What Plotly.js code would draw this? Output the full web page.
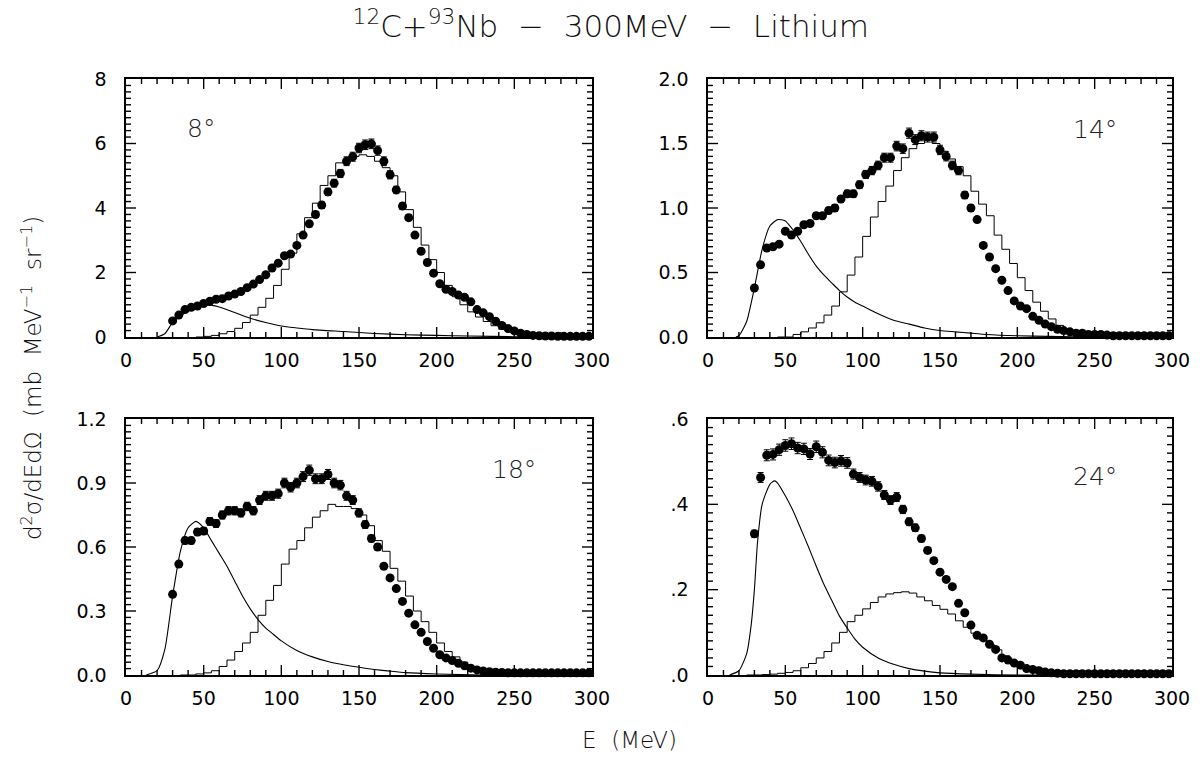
<!DOCTYPE html>
<html>
<head>
<meta charset="utf-8">
<script src="https://cdn.plot.ly/plotly-3.0.1.min.js"></script>
<style>html,body{margin:0;padding:0;background:#fff;}#chart{width:1200px;height:758px;}</style>
</head>
<body>
<div id="chart"></div>
<script>
// ---- data ----
const eData = [30,34,38,42,46,50,54,58,62,66,70,74,78,82,86,90,94,98,102,106,110,114,118,122,126,130,134,138,142,146,150,154,158,162,166,170,174,178,182,186,190,194,198,202,206,210,214,218,222,226,230,234,238,242,246,250,254,258,262,266,270,274,278,282,286,290,294,298];

const data8 = [0.50,0.68,0.85,0.92,0.96,1.04,1.11,1.17,1.19,1.27,1.33,1.41,1.53,1.64,1.78,1.93,2.14,2.29,2.52,2.57,2.84,3.16,3.51,3.80,4.09,4.50,4.77,5.07,5.45,5.59,5.86,5.96,5.99,5.78,5.45,5.03,4.56,4.06,3.70,3.16,2.66,2.31,1.98,1.65,1.48,1.41,1.30,1.23,1.09,0.85,0.75,0.63,0.49,0.36,0.26,0.19,0.12,0.08,0.05,0.04,0.03,0.03,0.02,0.02,0.02,0.02,0.02,0.02];
const data14 = [0.38,0.56,0.69,0.70,0.72,0.82,0.79,0.82,0.87,0.88,0.94,0.94,0.98,1.00,1.07,1.11,1.11,1.18,1.26,1.29,1.33,1.39,1.39,1.48,1.46,1.58,1.53,1.56,1.55,1.55,1.45,1.40,1.33,1.29,1.10,1.00,0.91,0.71,0.62,0.53,0.44,0.36,0.28,0.24,0.22,0.16,0.13,0.10,0.08,0.06,0.05,0.04,0.03,0.03,0.02,0.02,0.02,0.015,0.01,0.01,0.01,0.01,0.01,0.01,0.01,0.01,0.01,0.01];
const data18 = [0.378,0.52,0.63,0.63,0.67,0.675,0.72,0.71,0.75,0.77,0.77,0.76,0.79,0.77,0.82,0.84,0.84,0.85,0.90,0.88,0.90,0.93,0.96,0.92,0.92,0.94,0.90,0.89,0.84,0.82,0.76,0.705,0.64,0.60,0.51,0.455,0.405,0.345,0.29,0.235,0.20,0.157,0.125,0.095,0.08,0.068,0.055,0.043,0.032,0.024,0.019,0.015,0.013,0.012,0.01,0.01,0.01,0.01,0.01,0.01,0.01,0.01,0.01,0.01,0.01,0.01,0.01,0.01];
const data24 = [0.331,0.463,0.515,0.517,0.528,0.538,0.542,0.532,0.530,0.518,0.535,0.522,0.503,0.498,0.502,0.497,0.471,0.463,0.457,0.454,0.442,0.422,0.410,0.417,0.388,0.359,0.345,0.320,0.292,0.268,0.241,0.224,0.207,0.168,0.146,0.117,0.093,0.087,0.072,0.060,0.040,0.035,0.028,0.023,0.015,0.013,0.010,0.007,0.005,0.004,0.003,0.003,0.003,0.003,0.003,0.003,0.003,0.003,0.003,0.003,0.003,0.003,0.003,0.003,0.003,0.003,0.003,0.003];

// smooth low-energy component
const cE8 = [20,25,30,35,40,45,50,55,60,70,80,90,100,110,120,140,160,180,200,220,250,300];
const c8  = [0,0.10,0.45,0.65,0.80,0.93,0.99,0.98,0.93,0.76,0.58,0.45,0.34,0.28,0.23,0.17,0.11,0.07,0.05,0.03,0.01,0];
const cE14 = [18,20,25,30,35,40,45,50,55,60,65,70,75,80,85,90,95,100,110,120,130,140,150,160,170,180,200,220,250,300];
const c14  = [0,0.01,0.12,0.38,0.68,0.86,0.91,0.90,0.83,0.74,0.64,0.55,0.48,0.42,0.36,0.31,0.27,0.24,0.18,0.13,0.10,0.07,0.05,0.04,0.03,0.02,0.01,0.005,0,0];
const cE18 = [13,20,25,30,35,40,45,50,55,60,65,70,75,80,85,90,95,100,110,120,130,140,150,160,170,180,200,230,300];
const c18  = [0,0.02,0.12,0.37,0.58,0.69,0.72,0.69,0.63,0.57,0.51,0.44,0.37,0.31,0.26,0.22,0.19,0.16,0.115,0.085,0.063,0.048,0.036,0.026,0.018,0.011,0.005,0,0];
const cE24 = [14,20,25,28,30,32,35,40,43,45,50,55,60,65,70,75,80,85,90,95,100,110,120,130,140,150,170,200,300];
const c24  = [0,0.01,0.05,0.12,0.20,0.31,0.40,0.447,0.455,0.45,0.42,0.385,0.343,0.30,0.255,0.212,0.175,0.138,0.11,0.084,0.065,0.04,0.025,0.015,0.009,0.005,0.002,0,0];

// histogram high-energy component (5 MeV bins)
const hE8 = [45,50,55,60,65,70,75,80,85,90,95,100,105,110,115,120,125,130,135,140,145,150,155,160,165,170,175,180,185,190,195,200,205,210,215,220,225,230,235,240,245,250,255,260,265,270,275,280,285,290,295,300];
const h8  = [0,0.02,0.05,0.10,0.17,0.27,0.45,0.68,0.92,1.20,1.60,2.10,2.60,3.20,3.70,4.15,4.70,5.00,5.40,5.50,5.60,5.65,5.60,5.45,5.25,5.00,4.50,3.95,3.40,2.85,2.40,2.00,1.60,1.25,1.00,0.78,0.62,0.48,0.35,0.24,0.16,0.10,0.06,0.04,0.02,0.01,0,0,0,0,0,0];
const hE14 = [45,50,55,60,65,70,75,80,85,90,95,100,105,110,115,120,125,130,135,140,145,150,155,160,165,170,175,180,185,190,195,200,205,210,215,220,225,230,235,240,245,250,255,260,265,270,275,280,285,290,295,300];
const h14  = [0,0,0.02,0.04,0.07,0.11,0.17,0.24,0.35,0.48,0.62,0.78,0.93,1.05,1.17,1.29,1.39,1.46,1.50,1.53,1.50,1.44,1.38,1.32,1.25,1.13,1.03,0.94,0.79,0.68,0.57,0.46,0.36,0.27,0.20,0.14,0.09,0.06,0.04,0.02,0.01,0.01,0,0,0,0,0,0,0,0,0,0];
const hE18 = [35,40,45,50,55,60,65,70,75,80,85,90,95,100,105,110,115,120,125,130,135,140,145,150,155,160,165,170,175,180,185,190,195,200,205,210,215,220,225,230,235,240,245,250,255,260,265,270,275,280,285,290,295,300];
const h18  = [0,0,0.005,0.01,0.02,0.04,0.07,0.11,0.15,0.20,0.28,0.35,0.42,0.52,0.59,0.63,0.69,0.74,0.77,0.80,0.79,0.79,0.78,0.75,0.70,0.63,0.58,0.50,0.44,0.37,0.30,0.25,0.20,0.15,0.11,0.085,0.06,0.04,0.025,0.015,0.008,0.004,0.002,0,0,0,0,0,0,0,0,0,0,0];
const hE24 = [25,30,35,40,45,50,55,60,65,70,75,80,85,90,95,100,105,110,115,120,125,130,135,140,145,150,155,160,165,170,175,180,185,190,195,200,205,210,215,220,225,230,235,240,245,250,255,260,265,270,275,280,285,290,295,300];
const h24  = [0,0,0.001,0.002,0.004,0.006,0.010,0.017,0.027,0.040,0.055,0.075,0.100,0.125,0.140,0.155,0.170,0.183,0.190,0.193,0.195,0.192,0.183,0.174,0.163,0.154,0.143,0.127,0.112,0.098,0.085,0.072,0.059,0.045,0.031,0.022,0.015,0.009,0.005,0.003,0.002,0.001,0,0,0,0,0,0,0,0,0,0,0,0,0,0];

const angleLabels = ['8°','14°','18°','24°'];
const yTickVals = [[0,2,4,6,8],[0,0.5,1,1.5,2],[0,0.3,0.6,0.9,1.2],[0,0.2,0.4,0.6]];
const yTickText = [['0','2','4','6','8'],['0.0','0.5','1.0','1.5','2.0'],['0.0','0.3','0.6','0.9','1.2'],['.0','.2','.4','.6']];
const yMinorStep = [0.2, 0.05, 0.03, 0.02];
const xTickVals = [0,50,100,150,200,250,300];
const xTickText = ['0','50','100','150','200','250','300'];
const xMinorStep = 10;

// ---- build ----
const FONT = 'DejaVu Sans, Liberation Sans, sans-serif';
const W = 1200, H = 758, ML = 126, MR = 28, MT = 79, MB = 83;
const panels = [
  {d:data8,  cE:cE8,  c:c8,  hE:hE8,  h:h8,  yr:[0,8]},
  {d:data14, cE:cE14, c:c14, hE:hE14, h:h14, yr:[0,2]},
  {d:data18, cE:cE18, c:c18, hE:hE18, h:h18, yr:[0,1.2]},
  {d:data24, cE:cE24, c:c24, hE:hE24, h:h24, yr:[0,0.6]}
];
const xDom = [[0,0.4455],[0.5564,1]];
const yDom = [[0.5671,1],[0,0.4295]];
const labelPos = [[48,6.45],[250,1.61],[250,0.963],[250,0.465]];
const MAJ = 10, MIN = 5;

const traces = [];
const shapes = [];
const layout = {
  width:W, height:H,
  margin:{l:ML, r:MR, t:MT, b:MB},
  paper_bgcolor:'#fff', plot_bgcolor:'#fff',
  showlegend:false,
  font:{family:FONT, color:'#000'},
  title:{text:'<sup>12</sup>C+<sup>93</sup>Nb\u00a0\u00a0\u2212\u00a0\u00a0300MeV\u00a0\u00a0\u2212\u00a0\u00a0Lithium',
         x:0.509, xanchor:'center', y:0.965, yanchor:'middle', font:{family:FONT, size:31, color:'#111', weight:300}},
  annotations:[],
  shapes:shapes
};

function isMajor(v, list){ return list.some(t => Math.abs(t - v) < 1e-9); }

panels.forEach((p,i)=>{
  const n = i+1;
  const xa = n===1 ? 'x' : 'x'+n;
  const ya = n===1 ? 'y' : 'y'+n;
  traces.push({x:p.hE, y:p.h, xaxis:xa, yaxis:ya, mode:'lines', line:{shape:'hv', color:'#000', width:1}, hoverinfo:'skip'});
  traces.push({x:p.cE, y:p.c, xaxis:xa, yaxis:ya, mode:'lines', line:{shape:'spline', smoothing:0.6, color:'#000', width:1.1}, hoverinfo:'skip'});
  traces.push({x:eData, y:p.d, xaxis:xa, yaxis:ya, mode:'markers', cliponaxis:false,
    marker:{symbol:'circle', size:9, color:'#000'},
    error_y:{type:'percent', value:2.5, width:3, thickness:1, color:'#000'}});
  const col = i%2, row = Math.floor(i/2);
  const axCommon = {showline:true, linewidth:1.6, linecolor:'#000', mirror:true, ticks:'',
                    showgrid:false, zeroline:false, tickfont:{family:FONT, size:19, color:'#000'}, fixedrange:true};
  layout['xaxis'+(n===1?'':n)] = Object.assign({}, axCommon, {
    domain:xDom[col], anchor:ya, range:[0,300], tickmode:'array', tickvals:xTickVals, ticktext:xTickText, ticklabelstandoff:6
  });
  layout['yaxis'+(n===1?'':n)] = Object.assign({}, axCommon, {
    domain:yDom[row], anchor:xa, range:p.yr, tickmode:'array', tickvals:yTickVals[i], ticktext:yTickText[i], ticklabelstandoff:14
  });

  // frame ticks (inside, on all four sides), positioned through the axes
  const wPx = (xDom[col][1]-xDom[col][0])*(W-ML-MR);
  const hPx = (yDom[row][1]-yDom[row][0])*(H-MT-MB);
  const tl = {color:'#000', width:1.4};
  for (let k = 0; k*xMinorStep <= 300 + 1e-9; k++) {
    const v = k*xMinorStep;
    if (v <= 0 || v >= 300) continue;
    const f = (isMajor(v, xTickVals) ? MAJ : MIN)/hPx;
    shapes.push({type:'line', xref:xa, yref:ya+' domain', x0:v, x1:v, y0:0, y1:f, line:tl});
    shapes.push({type:'line', xref:xa, yref:ya+' domain', x0:v, x1:v, y0:1, y1:1-f, line:tl});
  }
  const ymax = p.yr[1], st = yMinorStep[i];
  for (let k = 0; k*st <= ymax + 1e-9; k++) {
    const v = Math.round(k*st*1000)/1000;
    if (v <= 0 || v >= ymax - 1e-9) continue;
    const f = (isMajor(v, yTickVals[i]) ? MAJ : MIN)/wPx;
    shapes.push({type:'line', xref:xa+' domain', yref:ya, x0:0, x1:f, y0:v, y1:v, line:tl});
    shapes.push({type:'line', xref:xa+' domain', yref:ya, x0:1, x1:1-f, y0:v, y1:v, line:tl});
  }

  layout.annotations.push({xref:xa, yref:ya, x:labelPos[i][0], y:labelPos[i][1], text:angleLabels[i], showarrow:false,
    xanchor:'center', yanchor:'middle', font:{family:FONT, size:25, color:'#222', weight:300}});
});

layout.annotations.push({xref:'paper', yref:'paper', x:-0.09, y:0.498, textangle:-90, showarrow:false,
  xanchor:'center', yanchor:'middle',
  text:'d<sup>2</sup>σ/dEdΩ\u00a0\u00a0(mb\u00a0\u00a0MeV<sup>\u22121</sup>\u00a0\u00a0sr<sup>\u22121</sup>)',
  font:{family:FONT, size:23, color:'#111', weight:300}});
layout.annotations.push({xref:'paper', yref:'paper', x:0.4818, y:-0.109, showarrow:false,
  xanchor:'center', yanchor:'middle', text:'E\u00a0\u00a0(MeV)', font:{family:FONT, size:23, color:'#111', weight:300}});

Plotly.newPlot('chart', traces, layout, {staticPlot:true, displayModeBar:false});
</script>
</body>
</html>
